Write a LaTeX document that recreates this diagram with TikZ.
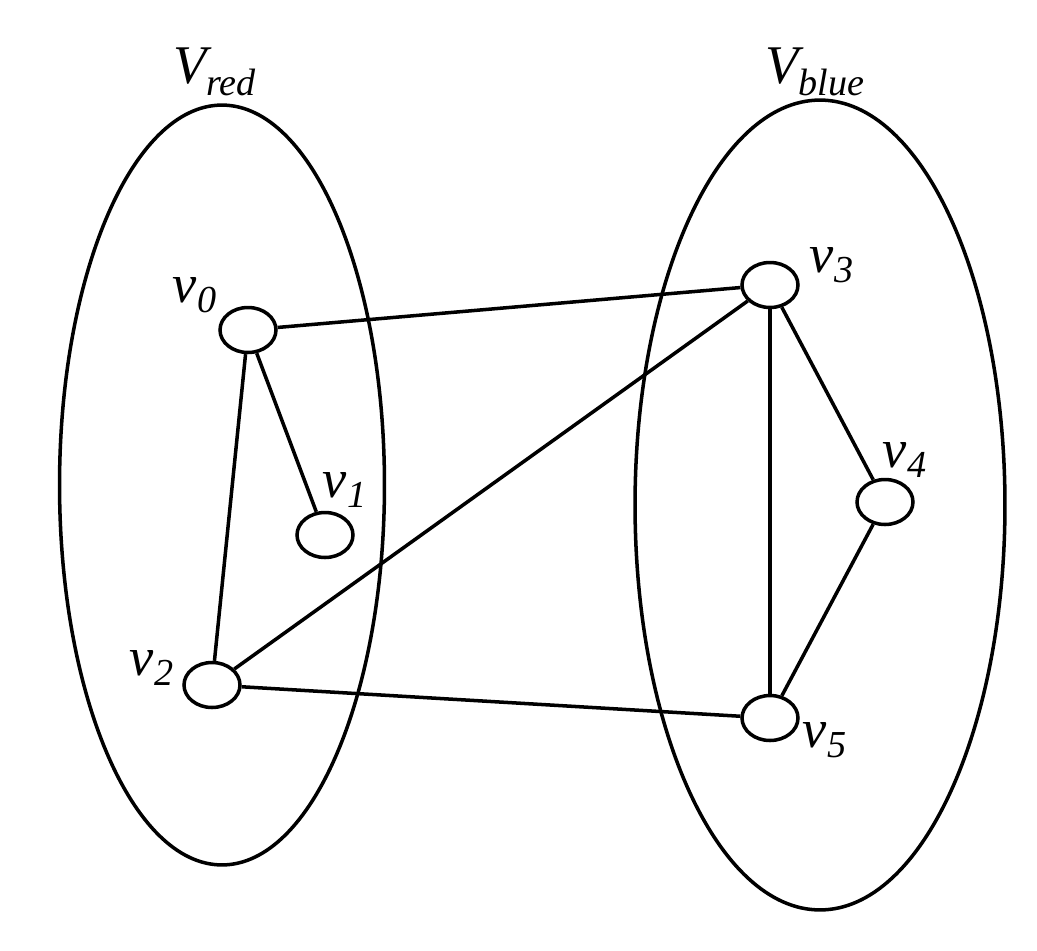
\documentclass[tikz,border=0pt]{standalone}
\usepackage{fontspec}
\setmainfont{Liberation Serif}
\usetikzlibrary{shapes.geometric}
\begin{document}
\begin{tikzpicture}[x=0.02cm,y=-0.02cm,line width=2pt,
  vert/.style={draw,ellipse,minimum width=1.12cm,minimum height=0.9cm,inner sep=0pt},
  lab/.style={font=\fontsize{31}{35}\selectfont\itshape}]
\useasboundingbox (0,0) rectangle (1037,950);
\node[draw,ellipse,minimum width=6.5cm,minimum height=15.2cm] (red) at (222,485) {};
\node[draw,ellipse,minimum width=7.4cm,minimum height=16.2cm] (blue) at (820,505) {};
\node[lab] (lr) at (215,72) {V\textsubscript{red}};
\node[lab] (lb) at (815,72) {V\textsubscript{blue}};
\node[vert] (v0) at (248,330) {};
\node[vert] (v1) at (325,535) {};
\node[vert] (v2) at (212,685) {};
\node[vert] (v3) at (770,285) {};
\node[vert] (v4) at (885,502) {};
\node[vert] (v5) at (770,718) {};
\node[lab] (l0) at (195,295) {v\textsubscript{0}};
\node[lab] (l1) at (345,490) {v\textsubscript{1}};
\node[lab] (l2) at (152,668) {v\textsubscript{2}};
\node[lab] (l3) at (832,265) {v\textsubscript{3}};
\node[lab] (l4) at (905,460) {v\textsubscript{4}};
\node[lab] (l5) at (825,740) {v\textsubscript{5}};
\draw (v0) -- (v3);
\draw (v0) -- (v1);
\draw (v0) -- (v2);
\draw (v2) -- (v3);
\draw (v2) -- (v5);
\draw (v3) -- (v5);
\draw (v3) -- (v4);
\draw (v4) -- (v5);
\end{tikzpicture}
\end{document}
